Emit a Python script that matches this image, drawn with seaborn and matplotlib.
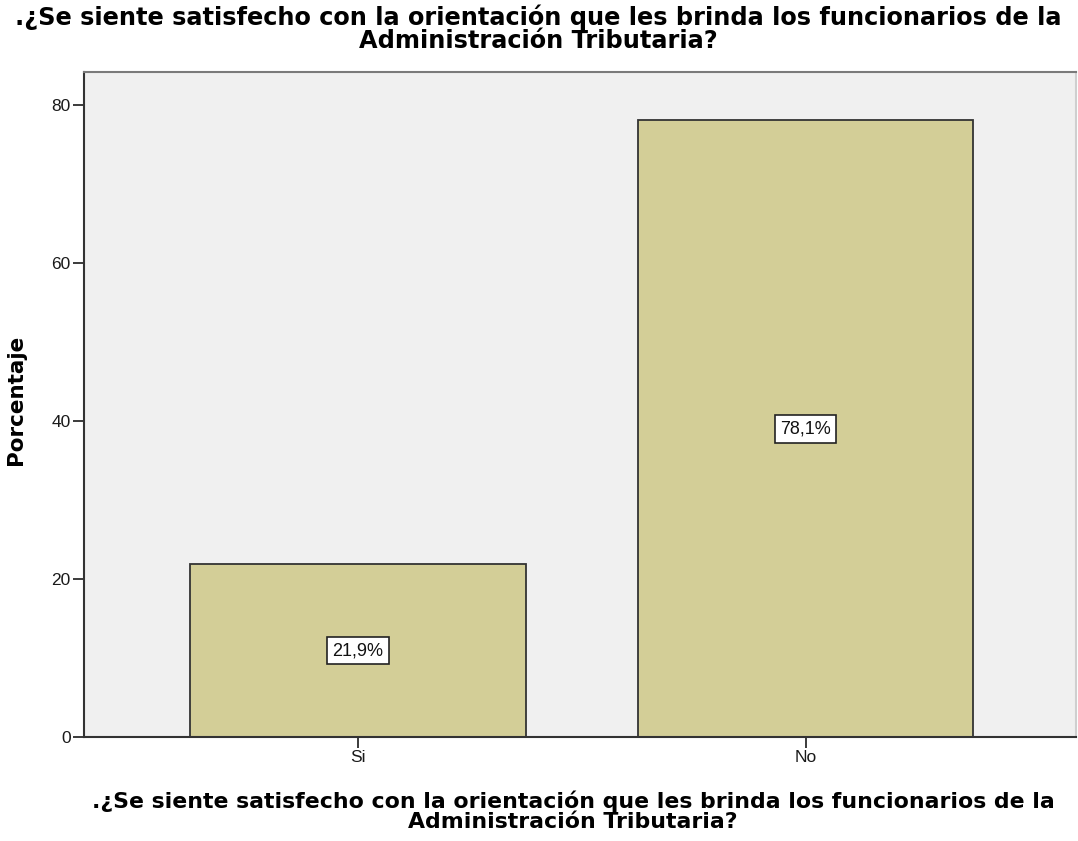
import matplotlib
matplotlib.use("Agg")
import matplotlib.pyplot as plt
import seaborn as sns
import pandas as pd

# data
categories = ["Si", "No"]
percentages = [21.9, 78.1]
bar_labels = ["21,9%", "78,1%"]
title_text = ".¿Se siente satisfecho con la orientación que les brinda los funcionarios de la\nAdministración Tributaria?"

sns.set_theme(style="white")
plt.rcParams['font.family'] = ['Liberation Sans', 'DejaVu Sans']

df = pd.DataFrame({"respuesta": categories, "porcentaje": percentages})

fig = plt.figure(figsize=(10.78, 8.41), dpi=100)
ax = fig.add_axes([84 / 1078, 1 - 737 / 841, (1076 - 84) / 1078, (737 - 72) / 841])
ax.set_facecolor("#f0f0f0")

sns.barplot(data=df, x="respuesta", y="porcentaje", color="#d3ce97",
            edgecolor="#333333", linewidth=1.3, width=0.75, saturation=1, ax=ax)

for i, (v, lab) in enumerate(zip(percentages, bar_labels)):
    ax.text(i, v / 2, lab, ha="center", va="center", fontsize=13, color="#111111",
            bbox=dict(boxstyle="square,pad=0.3", facecolor="white", edgecolor="#222222", linewidth=1.2))

ax.set_xlim(-0.612, 1.604)
ax.set_ylim(0, 84.2)
ax.set_yticks([0, 20, 40, 60, 80])

ax.tick_params(axis="both", which="both", direction="out", length=8, width=1.2,
               colors="#1a1a1a", labelsize=12.5, pad=1.5, bottom=True, left=True)
ax.set_xlabel("")
ax.set_ylabel("Porcentaje", fontsize=15.5, fontweight="bold", color="black",
              family="DejaVu Sans")
ax.yaxis.set_label_coords(-0.058, 0.507)

for side, col in [("left", "#333333"), ("bottom", "#333333"), ("top", "#7a7a7a"), ("right", "#cfcfcf")]:
    ax.spines[side].set_visible(True)
    ax.spines[side].set_color(col)
    ax.spines[side].set_linewidth(1.5)

fig.text(538 / 1078, 1 - 5 / 841, title_text, ha="center", va="top", fontsize=17.3,
         fontweight="bold", linespacing=0.9, family="DejaVu Sans", color="black")
fig.text(573 / 1078, 1 - 791 / 841, title_text, ha="center", va="top", fontsize=15.8,
         fontweight="bold", linespacing=0.95, family="DejaVu Sans", color="black")

fig.savefig("out.png", dpi=100, facecolor="white")
